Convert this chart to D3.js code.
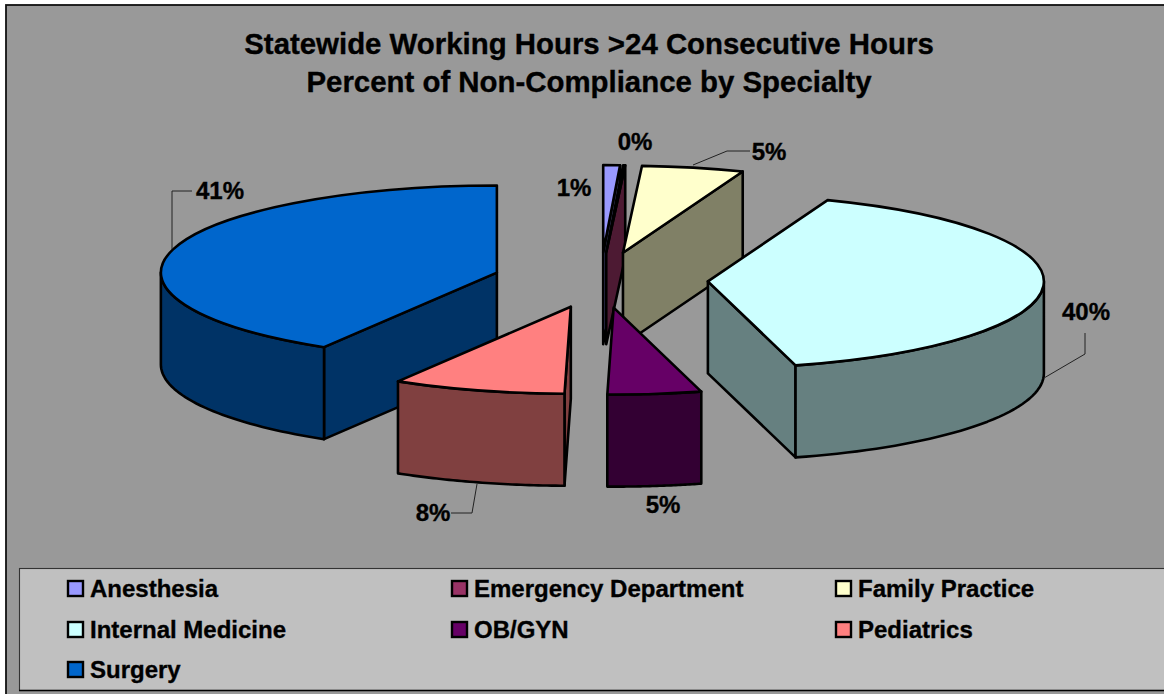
<!DOCTYPE html>
<html><head><meta charset="utf-8">
<script src="https://cdn.jsdelivr.net/npm/d3@7"></script>
<style>html,body{margin:0;padding:0;background:#fff;overflow:hidden}svg{display:block}
text{font-family:"Liberation Sans",Arial,sans-serif;font-weight:bold;fill:#000;stroke:#000;stroke-width:0.35px}</style>
</head><body><div id="chart"></div>
<script>
const categories = ["Anesthesia","Emergency Department","Family Practice","Internal Medicine","OB/GYN","Pediatrics","Surgery"];
const values = [0.8,0.1,4.9,40.0,4.5,8.3,41.4];
const topColors = ["#9999FF","#993366","#FFFFCC","#CCFFFF","#660066","#FF8080","#0066CC"];
const sideColors = ["#4D4D80","#4D1A33","#808066","#668080","#330033","#804040","#003366"];
const titleLines = ["Statewide Working Hours >24 Consecutive Hours","Percent of Non-Compliance by Specialty"];

const W=1164,H=694;
const cx=600.5,cy=280,rx=336,ry=87,depth=92,explode=0.32;
const svg=d3.select("#chart").append("svg").attr("width",W).attr("height",H);

// chart background and frame
svg.append("rect").attr("x",6).attr("y",5).attr("width",W).attr("height",H).attr("fill","#999999").attr("stroke","#111").attr("stroke-width",1.8);

// title
titleLines.forEach((t,i)=>svg.append("text").attr("x",589).attr("y",54+i*37.5).attr("text-anchor","middle").attr("font-size",29.4).text(t));

const arcs=d3.pie().sort(null).value(d=>d)(values);
const yScale=ry/rx;
const rim=(a,r=rx)=>[r*Math.sin(a),-r*yScale*Math.cos(a)];
const lineGen=d3.line();
const slices=arcs.map((a,i)=>{
  const mid=(a.startAngle+a.endAngle)/2;
  const o=rim(mid,rx*explode);
  return {i,a,ox:cx+o[0],oy:cy+o[1]};
});
const order=[6,0,1,2,3,5,4];
const arcGen=d3.arc().innerRadius(0).outerRadius(rx);
const g=svg.append("g");
const sw=2.6;
order.forEach(idx=>{
  const s=slices[idx],t0=s.a.startAngle,t1=s.a.endAngle;
  const sg=g.append("g").attr("transform",`translate(${s.ox},${s.oy})`);
  const side=sideColors[idx];
  const face=p=>sg.append("path").attr("d",p).attr("fill",side).attr("stroke","#000").attr("stroke-width",sw).attr("stroke-linejoin","round");
  const radial=t=>{const e=rim(t);return lineGen([[0,0],e,[e[0],e[1]+depth],[0,depth]])+"Z";};
  // cut faces that look towards the viewer
  if(Math.sin(t0)<-1e-6) face(radial(t0));
  if(Math.sin(t1)>1e-6) face(radial(t1));
  // outer wall
  const a0=Math.max(t0,Math.PI/2),a1=Math.min(t1,3*Math.PI/2);
  if(a1>a0){
    const ts=d3.range(0,41).map(k=>a0+(a1-a0)*k/40);
    const upper=ts.map(t=>rim(t));
    const lower=ts.slice().reverse().map(t=>{const e=rim(t);return [e[0],e[1]+depth];});
    face(lineGen(upper.concat(lower))+"Z");
  }
  // top face
  sg.append("path").attr("d",arcGen({startAngle:t0,endAngle:t1}))
    .attr("transform",`scale(1,${yScale})`).attr("vector-effect","non-scaling-stroke")
    .attr("fill",topColors[idx]).attr("stroke","#000").attr("stroke-width",sw).attr("stroke-linejoin","round");
});

// data labels
const labelAnchor=[[574,196],[635,150],[769,160],[1086,320],[663,513],[433,521],[220,199]];
values.forEach((v,i)=>svg.append("text").attr("x",labelAnchor[i][0]).attr("y",labelAnchor[i][1]).attr("text-anchor","middle").attr("font-size",24).text((+v.toFixed(0))+"%"));

// leader lines
const leaders=[
 [[693,165],[727,151],[750,151]],
 [[1044,378],[1085,354],[1085,333]],
 [[477,484],[472,513],[451,513]],
 [[172,249],[172,191],[192,191]]
];
leaders.forEach(l=>svg.append("path").attr("d",lineGen(l)).attr("fill","none").attr("stroke","#222").attr("stroke-width",1));

// legend
svg.append("rect").attr("x",19.5).attr("y",568.5).attr("width",W).attr("height",122).attr("fill","#C0C0C0").attr("stroke","#333").attr("stroke-width",1.1);
svg.append("line").attr("x1",19).attr("x2",W).attr("y1",690.5).attr("y2",690.5).attr("stroke","#000").attr("stroke-width",1.6);
const legendCols=[68,452,836],legendRows=[589,630,670];
categories.forEach((c,i)=>{
  const col=legendCols[i%3],row=legendRows[Math.floor(i/3)];
  svg.append("rect").attr("x",col).attr("y",row-8).attr("width",15).attr("height",15).attr("fill",topColors[i]).attr("stroke","#000").attr("stroke-width",2.4);
  svg.append("text").attr("x",col+22).attr("y",row+8).attr("font-size",24).text(c);
});
</script></body></html>
